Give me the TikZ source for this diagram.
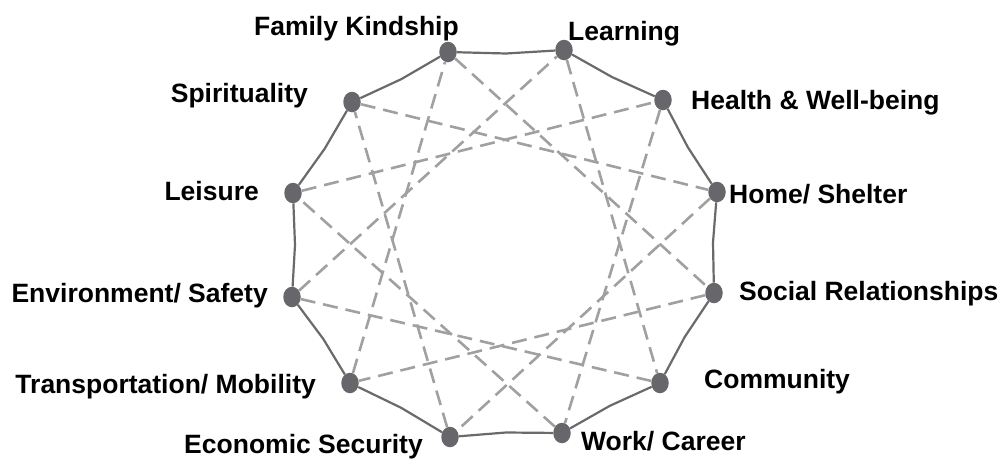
\documentclass[tikz,border=0pt]{standalone}
\usepackage{fontspec}
\setmainfont{Liberation Sans}
\usetikzlibrary{calc,shapes.geometric}
\definecolor{dotgray}{HTML}{67676B}
\definecolor{solidgray}{HTML}{6A6A6A}
\definecolor{dashgray}{HTML}{A0A0A0}
\begin{document}
\begin{tikzpicture}[x=1pt,y=-1pt,
  dot/.style={ellipse,fill=dotgray,minimum width=17.5pt,minimum height=20.5pt,inner sep=0pt},
  lab/.style={font=\fontsize{26.5}{30}\selectfont\bfseries,inner sep=0pt,text=black},
  labw/.style={lab,anchor=base west},
  labe/.style={lab,anchor=base east},
  rim/.style={draw=solidgray,line width=2.2pt,line join=round},
  link/.style={draw=dashgray,line width=2.6pt,dash pattern=on 15pt off 8pt}]
\useasboundingbox (0,0) rectangle (1005,459);
\coordinate (ctr) at (505,243);
% dots
\node[dot] (n0) at (448,52) {};
\node[dot] (n1) at (564,50) {};
\node[dot] (n2) at (663,100) {};
\node[dot] (n3) at (717,192) {};
\node[dot] (n4) at (714,293) {};
\node[dot] (n5) at (660,383) {};
\node[dot] (n6) at (562,433) {};
\node[dot] (n7) at (450,437) {};
\node[dot] (n8) at (350,383) {};
\node[dot] (n9) at (292,297) {};
\node[dot] (n10) at (293,193) {};
\node[dot] (n11) at (352,102) {};
% rim
\foreach \i [evaluate=\i as \j using {int(mod(\i+1,12))}] in {0,...,11}
  \draw[rim] (n\i) -- ($(n\i)!0.5!(n\j)!2.5pt!(ctr)$) -- (n\j);
% dashed links
\foreach \i [evaluate=\i as \j using {int(mod(\i+4,12))}] in {0,...,11}
  \draw[link] (n\i) -- (n\j);
% labels
\node[labe] (l0) at (459,35) {Family Kindship};
\node[labw] (l1) at (568,40) {Learning};
\node[labw] (l2) at (691,109) {Health \& Well-being};
\node[labw] (l3) at (729,203) {Home/ Shelter};
\node[labw] (l4) at (739,300) {Social Relationships};
\node[labw] (l5) at (704,388) {Community};
\node[labw] (l6) at (581,450) {Work/ Career};
\node[labe] (l7) at (423,453) {Economic Security};
\node[labe] (l8) at (316,393) {Transportation/ Mobility};
\node[labe] (l9) at (268,302) {Environment/ Safety};
\node[labe] (l10) at (259,200) {Leisure};
\node[labe] (l11) at (308,102) {Spirituality};
\end{tikzpicture}
\end{document}
